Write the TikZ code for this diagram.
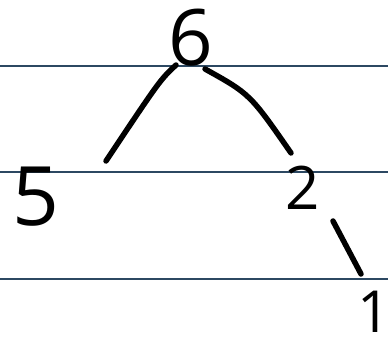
\documentclass[tikz,border=0pt]{standalone}
\usepackage{fontspec}
\setmainfont{Open Sans}
\definecolor{ruleblue}{RGB}{44,72,98}
\tikzset{
  digit/.style={inner sep=0pt, text=black},
  ruling/.style={draw=ruleblue, line width=1.3pt},
  stroke/.style={draw=black, line width=5.5pt, line cap=round}
}
\begin{document}
\begin{tikzpicture}[x=1pt,y=-1pt]
\useasboundingbox (0,0) rectangle (388,342);
\fill[white] (0,0) rectangle (388,342);
% ruled lines
\draw[ruling] (0,66) -- (388,66);
\draw[ruling] (0,172) -- (388,172);
\draw[ruling] (0,279) -- (388,279);
% nodes
\node[digit, font=\fontsize{78}{78}\selectfont] (six) at (191,38) {6};
\node[digit, font=\fontsize{82}{82}\selectfont] (five) at (36,197) {5};
\node[digit, font=\fontsize{60}{60}\selectfont] (two) at (303,188) {2};
\node[digit, font=\fontsize{58}{58}\selectfont] (one) at (374,312) {1};
% connectors
\draw[stroke] ([shift={(-15,27)}]six.center) .. controls (160,80) .. ([shift={(70,-36)}]five.center);
\draw[stroke] ([shift={(14,31)}]six.center) .. controls (250,94) .. ([shift={(-12,-35)}]two.center);
\draw[stroke] ([shift={(30,33)}]two.center) -- ([shift={(-13,-38)}]one.center);
\end{tikzpicture}
\end{document}
